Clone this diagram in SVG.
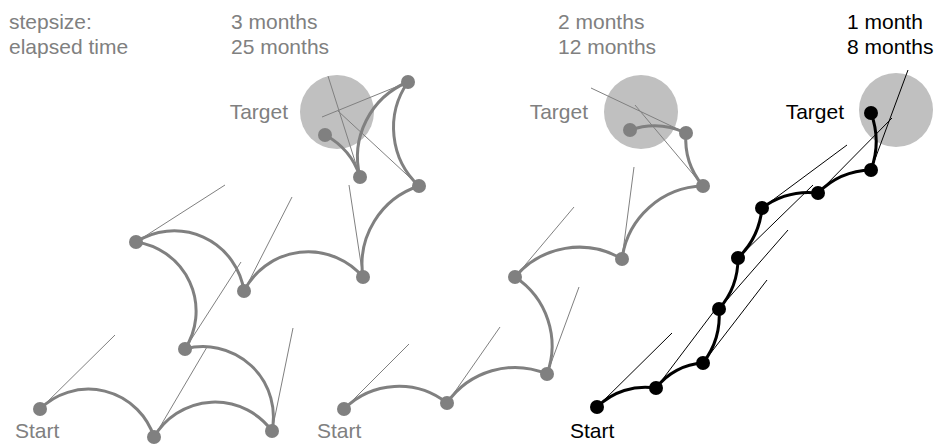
<svg xmlns="http://www.w3.org/2000/svg" width="939" height="447" viewBox="0 0 939 447">
<style>
text{font-family:"Liberation Sans",Arial,sans-serif;font-size:21px}
.g{fill:#808080}
.k{fill:#000}
.tg{fill:#c0c0c0}
.ln{fill:none;stroke-width:1}
.cv{fill:none;stroke-width:3}
.gs{stroke:#808080}
.ks{stroke:#000}
.dg{fill:#808080}
.dk{fill:#000}
</style>
<rect width="939" height="447" fill="#fff"/>
<g id="targets">
<circle class="tg" cx="337" cy="112" r="37"/>
<circle class="tg" cx="641" cy="112" r="37"/>
<circle class="tg" cx="896" cy="110" r="37"/>
</g>
<g id="labels">
<text class="g" x="9" y="29">stepsize:</text>
<text class="g" x="9" y="54">elapsed time</text>
<text class="g" x="231" y="29">3 months</text>
<text class="g" x="231" y="54">25 months</text>
<text class="g" x="558" y="29">2 months</text>
<text class="g" x="558" y="54">12 months</text>
<text class="k" x="847" y="29">1 month</text>
<text class="k" x="847" y="54">8 months</text>
<text class="g" x="288" y="119" text-anchor="end">Target</text>
<text class="g" x="588" y="119" text-anchor="end">Target</text>
<text class="k" x="844" y="119" text-anchor="end">Target</text>
<text class="g" x="15" y="438">Start</text>
<text class="g" x="317" y="438">Start</text>
<text class="k" x="570" y="438">Start</text>
</g>
<g id="connectors">
<g class="ln gs">
<path d="M40 409L115 335M154 437L207 347M272 431L293 328M185 349L241 262M136 242L225 185M244 291L292 197M363 277L349 185M419 186L338 111M408 82L322 117M360 177L328 76"/>
<path d="M344 409L409 344M447 403L500 327M547 374L579 287M515 277L574 207M622 259L634 167M703 186L635 105M686 133L591 88"/>
</g>
<g class="ln ks">
<path d="M597 407L672 333M656 388L718 306M703 363L767 280M719 309L788 230M738 258L813 185M762 208L847 145M818 193L892 118M871 170L908 70"/>
</g>
<g class="cv gs">
<path d="M40 409A68.9 68.9 0 0 1 154 437"/>
<path d="M154 437A70.7 70.7 0 0 1 272 431"/>
<path d="M272 431A70.3 70.3 0 0 0 185 349"/>
<path d="M185 349A69.9 69.9 0 0 0 136 242"/>
<path d="M136 242A70.7 70.7 0 0 1 244 291"/>
<path d="M244 291A72.1 72.1 0 0 1 363 277"/>
<path d="M363 277A82.5 82.5 0 0 1 419 186"/>
<path d="M419 186A79.5 79.5 0 0 1 408 82"/>
<path d="M408 82A81.1 81.1 0 0 0 360 177"/>
<path d="M360 177A72.3 72.3 0 0 0 325 135"/>
<path d="M344 409A77.6 77.6 0 0 1 447 403"/>
<path d="M447 403A82.8 82.8 0 0 1 547 374"/>
<path d="M547 374A82.1 82.1 0 0 0 515 277"/>
<path d="M515 277A83.9 83.9 0 0 1 622 259"/>
<path d="M622 259A83.8 83.8 0 0 1 703 186"/>
<path d="M703 186A73.2 73.2 0 0 1 686 133"/>
<path d="M686 133A74 74 0 0 0 630 130"/>
</g>
<g class="cv ks">
<path d="M597 407A68.7 68.7 0 0 1 656 388"/>
<path d="M656 388A63.4 63.4 0 0 1 703 363"/>
<path d="M703 363A78.4 78.4 0 0 0 719 309"/>
<path d="M719 309A77.1 77.1 0 0 0 738 258"/>
<path d="M738 258A80 80 0 0 0 762 208"/>
<path d="M762 208A78.8 78.8 0 0 1 818 193"/>
<path d="M818 193A77.1 77.1 0 0 1 871 170"/>
<path d="M871 170A82.4 82.4 0 0 0 871 113"/>
</g>
</g>
<g id="steps3">
<g id="a0"><circle class="dg" cx="40" cy="409" r="7"/></g>
<g id="a1"><circle class="dg" cx="154" cy="437" r="7"/></g>
<g id="a2"><circle class="dg" cx="272" cy="431" r="7"/></g>
<g id="a3"><circle class="dg" cx="185" cy="349" r="7"/></g>
<g id="a4"><circle class="dg" cx="136" cy="242" r="7"/></g>
<g id="a5"><circle class="dg" cx="244" cy="291" r="7"/></g>
<g id="a6"><circle class="dg" cx="363" cy="277" r="7"/></g>
<g id="a7"><circle class="dg" cx="419" cy="186" r="7"/></g>
<g id="a8"><circle class="dg" cx="408" cy="82" r="7"/></g>
<g id="a9"><circle class="dg" cx="360" cy="177" r="7"/></g>
<g id="a10"><circle class="dg" cx="325" cy="135" r="7"/></g>
</g>
<g id="steps2">
<g id="b0"><circle class="dg" cx="344" cy="409" r="7"/></g>
<g id="b1"><circle class="dg" cx="447" cy="403" r="7"/></g>
<g id="b2"><circle class="dg" cx="547" cy="374" r="7"/></g>
<g id="b3"><circle class="dg" cx="515" cy="277" r="7"/></g>
<g id="b4"><circle class="dg" cx="622" cy="259" r="7"/></g>
<g id="b5"><circle class="dg" cx="703" cy="186" r="7"/></g>
<g id="b6"><circle class="dg" cx="686" cy="133" r="7"/></g>
<g id="b7"><circle class="dg" cx="630" cy="130" r="7"/></g>
</g>
<g id="steps1">
<g id="c0"><circle class="dk" cx="597" cy="407" r="7"/></g>
<g id="c1"><circle class="dk" cx="656" cy="388" r="7"/></g>
<g id="c2"><circle class="dk" cx="703" cy="363" r="7"/></g>
<g id="c3"><circle class="dk" cx="719" cy="309" r="7"/></g>
<g id="c4"><circle class="dk" cx="738" cy="258" r="7"/></g>
<g id="c5"><circle class="dk" cx="762" cy="208" r="7"/></g>
<g id="c6"><circle class="dk" cx="818" cy="193" r="7"/></g>
<g id="c7"><circle class="dk" cx="871" cy="170" r="7"/></g>
<g id="c8"><circle class="dk" cx="871" cy="113" r="7"/></g>
</g>
</svg>
